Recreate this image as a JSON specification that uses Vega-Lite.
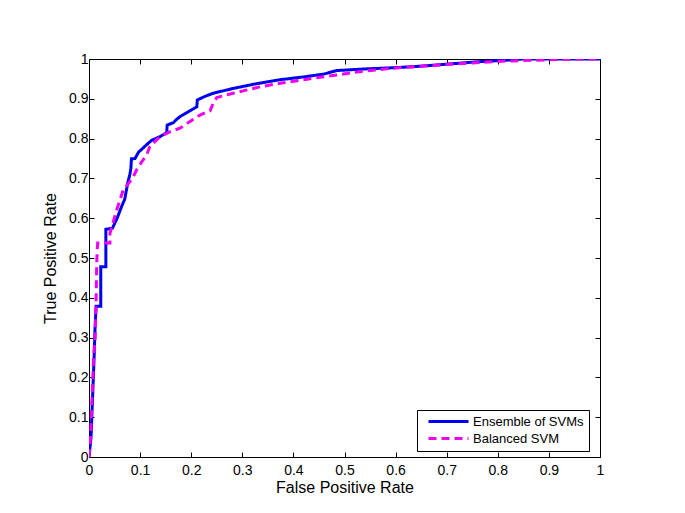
{
  "$schema": "https://vega.github.io/schema/vega-lite/v6.json",
  "width": 511,
  "height": 398,
  "autosize": {"type": "none"},
  "padding": {"left": 89, "top": 59, "right": 85, "bottom": 56},
  "background": "white",
  "config": {
    "view": {"stroke": "#000000", "strokeWidth": 1},
    "font": "Liberation Sans",
    "axis": {
      "grid": false,
      "domain": false,
      "tickColor": "#000000",
      "tickSize": -5,
      "labelFontSize": 14,
      "labelColor": "#000000",
      "titleFontSize": 16,
      "titleFontWeight": "normal",
      "titleColor": "#000000",
      "labelFont": "Liberation Sans",
      "titleFont": "Liberation Sans"
    }
  },
  "data": {
    "values": [
      {"s": "Ensemble of SVMs", "i": 0, "fpr": 0, "tpr": 0},
      {"s": "Ensemble of SVMs", "i": 1, "fpr": 0.004, "tpr": 0.05},
      {"s": "Ensemble of SVMs", "i": 2, "fpr": 0.007, "tpr": 0.15},
      {"s": "Ensemble of SVMs", "i": 3, "fpr": 0.010, "tpr": 0.25},
      {"s": "Ensemble of SVMs", "i": 4, "fpr": 0.012, "tpr": 0.33},
      {"s": "Ensemble of SVMs", "i": 5, "fpr": 0.014, "tpr": 0.379},
      {"s": "Ensemble of SVMs", "i": 6, "fpr": 0.023, "tpr": 0.379},
      {"s": "Ensemble of SVMs", "i": 7, "fpr": 0.023, "tpr": 0.478},
      {"s": "Ensemble of SVMs", "i": 8, "fpr": 0.033, "tpr": 0.478},
      {"s": "Ensemble of SVMs", "i": 9, "fpr": 0.033, "tpr": 0.572},
      {"s": "Ensemble of SVMs", "i": 10, "fpr": 0.046, "tpr": 0.575},
      {"s": "Ensemble of SVMs", "i": 11, "fpr": 0.055, "tpr": 0.600},
      {"s": "Ensemble of SVMs", "i": 12, "fpr": 0.064, "tpr": 0.630},
      {"s": "Ensemble of SVMs", "i": 13, "fpr": 0.070, "tpr": 0.648},
      {"s": "Ensemble of SVMs", "i": 14, "fpr": 0.076, "tpr": 0.690},
      {"s": "Ensemble of SVMs", "i": 15, "fpr": 0.080, "tpr": 0.710},
      {"s": "Ensemble of SVMs", "i": 16, "fpr": 0.082, "tpr": 0.725},
      {"s": "Ensemble of SVMs", "i": 17, "fpr": 0.083, "tpr": 0.749},
      {"s": "Ensemble of SVMs", "i": 18, "fpr": 0.090, "tpr": 0.750},
      {"s": "Ensemble of SVMs", "i": 19, "fpr": 0.097, "tpr": 0.766},
      {"s": "Ensemble of SVMs", "i": 20, "fpr": 0.103, "tpr": 0.773},
      {"s": "Ensemble of SVMs", "i": 21, "fpr": 0.113, "tpr": 0.785},
      {"s": "Ensemble of SVMs", "i": 22, "fpr": 0.123, "tpr": 0.796},
      {"s": "Ensemble of SVMs", "i": 23, "fpr": 0.139, "tpr": 0.805},
      {"s": "Ensemble of SVMs", "i": 24, "fpr": 0.152, "tpr": 0.815},
      {"s": "Ensemble of SVMs", "i": 25, "fpr": 0.153, "tpr": 0.834},
      {"s": "Ensemble of SVMs", "i": 26, "fpr": 0.165, "tpr": 0.840},
      {"s": "Ensemble of SVMs", "i": 27, "fpr": 0.172, "tpr": 0.849},
      {"s": "Ensemble of SVMs", "i": 28, "fpr": 0.178, "tpr": 0.855},
      {"s": "Ensemble of SVMs", "i": 29, "fpr": 0.195, "tpr": 0.868},
      {"s": "Ensemble of SVMs", "i": 30, "fpr": 0.211, "tpr": 0.880},
      {"s": "Ensemble of SVMs", "i": 31, "fpr": 0.212, "tpr": 0.897},
      {"s": "Ensemble of SVMs", "i": 32, "fpr": 0.225, "tpr": 0.905},
      {"s": "Ensemble of SVMs", "i": 33, "fpr": 0.243, "tpr": 0.914},
      {"s": "Ensemble of SVMs", "i": 34, "fpr": 0.282, "tpr": 0.926},
      {"s": "Ensemble of SVMs", "i": 35, "fpr": 0.328, "tpr": 0.938},
      {"s": "Ensemble of SVMs", "i": 36, "fpr": 0.374, "tpr": 0.948},
      {"s": "Ensemble of SVMs", "i": 37, "fpr": 0.420, "tpr": 0.955},
      {"s": "Ensemble of SVMs", "i": 38, "fpr": 0.459, "tpr": 0.962},
      {"s": "Ensemble of SVMs", "i": 39, "fpr": 0.485, "tpr": 0.971},
      {"s": "Ensemble of SVMs", "i": 40, "fpr": 0.540, "tpr": 0.975},
      {"s": "Ensemble of SVMs", "i": 41, "fpr": 0.596, "tpr": 0.978},
      {"s": "Ensemble of SVMs", "i": 42, "fpr": 0.650, "tpr": 0.982},
      {"s": "Ensemble of SVMs", "i": 43, "fpr": 0.700, "tpr": 0.987},
      {"s": "Ensemble of SVMs", "i": 44, "fpr": 0.760, "tpr": 0.993},
      {"s": "Ensemble of SVMs", "i": 45, "fpr": 0.817, "tpr": 0.997},
      {"s": "Ensemble of SVMs", "i": 46, "fpr": 0.850, "tpr": 1.0},
      {"s": "Ensemble of SVMs", "i": 47, "fpr": 1.0, "tpr": 1.0},
      {"s": "Balanced SVM", "i": 0, "fpr": 0, "tpr": 0},
      {"s": "Balanced SVM", "i": 1, "fpr": 0.003, "tpr": 0.05},
      {"s": "Balanced SVM", "i": 2, "fpr": 0.006, "tpr": 0.15},
      {"s": "Balanced SVM", "i": 3, "fpr": 0.009, "tpr": 0.25},
      {"s": "Balanced SVM", "i": 4, "fpr": 0.012, "tpr": 0.30},
      {"s": "Balanced SVM", "i": 5, "fpr": 0.014, "tpr": 0.40},
      {"s": "Balanced SVM", "i": 6, "fpr": 0.015, "tpr": 0.478},
      {"s": "Balanced SVM", "i": 7, "fpr": 0.016, "tpr": 0.520},
      {"s": "Balanced SVM", "i": 8, "fpr": 0.017, "tpr": 0.538},
      {"s": "Balanced SVM", "i": 9, "fpr": 0.041, "tpr": 0.538},
      {"s": "Balanced SVM", "i": 10, "fpr": 0.041, "tpr": 0.562},
      {"s": "Balanced SVM", "i": 11, "fpr": 0.054, "tpr": 0.620},
      {"s": "Balanced SVM", "i": 12, "fpr": 0.067, "tpr": 0.671},
      {"s": "Balanced SVM", "i": 13, "fpr": 0.085, "tpr": 0.700},
      {"s": "Balanced SVM", "i": 14, "fpr": 0.093, "tpr": 0.721},
      {"s": "Balanced SVM", "i": 15, "fpr": 0.105, "tpr": 0.745},
      {"s": "Balanced SVM", "i": 16, "fpr": 0.113, "tpr": 0.759},
      {"s": "Balanced SVM", "i": 17, "fpr": 0.119, "tpr": 0.780},
      {"s": "Balanced SVM", "i": 18, "fpr": 0.139, "tpr": 0.805},
      {"s": "Balanced SVM", "i": 19, "fpr": 0.160, "tpr": 0.818},
      {"s": "Balanced SVM", "i": 20, "fpr": 0.178, "tpr": 0.826},
      {"s": "Balanced SVM", "i": 21, "fpr": 0.200, "tpr": 0.845},
      {"s": "Balanced SVM", "i": 22, "fpr": 0.217, "tpr": 0.859},
      {"s": "Balanced SVM", "i": 23, "fpr": 0.237, "tpr": 0.870},
      {"s": "Balanced SVM", "i": 24, "fpr": 0.243, "tpr": 0.889},
      {"s": "Balanced SVM", "i": 25, "fpr": 0.250, "tpr": 0.903},
      {"s": "Balanced SVM", "i": 26, "fpr": 0.282, "tpr": 0.914},
      {"s": "Balanced SVM", "i": 27, "fpr": 0.335, "tpr": 0.930},
      {"s": "Balanced SVM", "i": 28, "fpr": 0.374, "tpr": 0.939},
      {"s": "Balanced SVM", "i": 29, "fpr": 0.430, "tpr": 0.950},
      {"s": "Balanced SVM", "i": 30, "fpr": 0.485, "tpr": 0.960},
      {"s": "Balanced SVM", "i": 31, "fpr": 0.540, "tpr": 0.970},
      {"s": "Balanced SVM", "i": 32, "fpr": 0.596, "tpr": 0.977},
      {"s": "Balanced SVM", "i": 33, "fpr": 0.685, "tpr": 0.985},
      {"s": "Balanced SVM", "i": 34, "fpr": 0.750, "tpr": 0.990},
      {"s": "Balanced SVM", "i": 35, "fpr": 0.817, "tpr": 0.995},
      {"s": "Balanced SVM", "i": 36, "fpr": 0.900, "tpr": 0.998},
      {"s": "Balanced SVM", "i": 37, "fpr": 0.948, "tpr": 1.0},
      {"s": "Balanced SVM", "i": 38, "fpr": 1.0, "tpr": 1.0}
    ]
  },
  "encoding": {
    "x": {"field": "fpr", "type": "quantitative", "scale": {"domain": [0, 1], "nice": false}},
    "y": {"field": "tpr", "type": "quantitative", "scale": {"domain": [0, 1], "nice": false}},
    "order": {"field": "i", "type": "quantitative"}
  },
  "layer": [
    {
      "mark": {"type": "line", "strokeWidth": 3, "clip": true},
      "encoding": {
        "x": {"field": "fpr", "type": "quantitative", "axis": {"orient": "bottom", "values": [0,0.1,0.2,0.3,0.4,0.5,0.6,0.7,0.8,0.9,1], "format": "~g", "title": "False Positive Rate", "labelPadding": 11, "titleY": 30, "titleBaseline": "middle", "labelFlush": false}},
        "y": {"field": "tpr", "type": "quantitative", "axis": {"orient": "left", "values": [0,0.1,0.2,0.3,0.4,0.5,0.6,0.7,0.8,0.9,1], "format": "~g", "title": "True Positive Rate", "labelPadding": 6, "titleX": -39, "titleBaseline": "middle", "labelFlush": false}},
        "color": {"field": "s", "type": "nominal", "scale": {"domain": ["Ensemble of SVMs", "Balanced SVM"], "range": ["#0000f0", "#f000f0"]},
          "legend": {"title": null, "orient": "none", "legendX": 328, "legendY": 351, "strokeColor": "#000000", "fillColor": "#ffffff", "padding": 5, "symbolType": "M0,0H8", "symbolStrokeWidth": 3, "symbolSize": 100, "labelFontSize": 13, "labelFont": "Liberation Sans", "labelColor": "#000000", "labelOffset": 38, "rowPadding": 3, "cornerRadius": 0}},
        "strokeDash": {"field": "s", "type": "nominal", "scale": {"domain": ["Ensemble of SVMs", "Balanced SVM"], "range": [[1, 0], [8, 5]]}, "legend": null}
      }
    },
    {
      "mark": {"type": "line", "strokeWidth": 0, "opacity": 0},
      "encoding": {
        "x": {"field": "fpr", "type": "quantitative", "axis": {"orient": "top", "values": [0,0.1,0.2,0.3,0.4,0.5,0.6,0.7,0.8,0.9,1], "labels": false, "title": null}},
        "y": {"field": "tpr", "type": "quantitative", "axis": {"orient": "right", "values": [0,0.1,0.2,0.3,0.4,0.5,0.6,0.7,0.8,0.9,1], "labels": false, "title": null}},
        "detail": {"field": "s", "type": "nominal"}
      }
    }
  ],
  "resolve": {"axis": {"x": "independent", "y": "independent"}}
}
